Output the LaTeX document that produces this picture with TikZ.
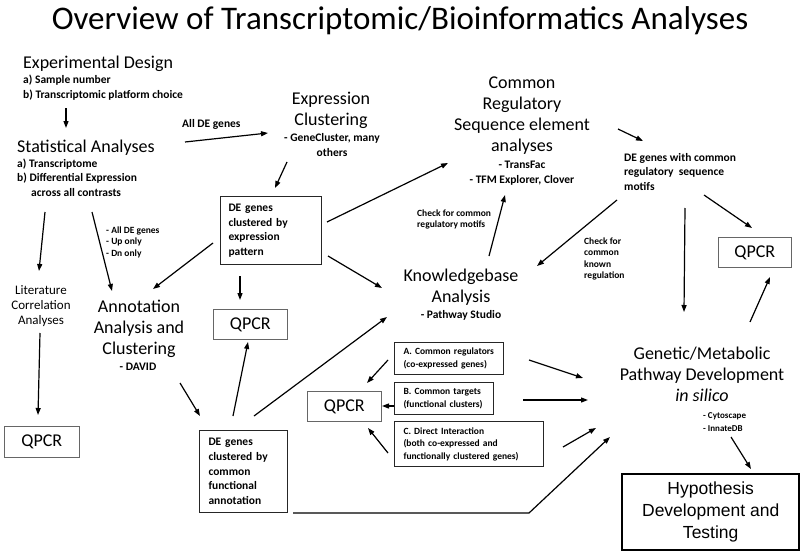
\documentclass[tikz,border=0pt]{standalone}
\usepackage{fontspec}
\setmainfont{Carlito}
\newfontfamily\arialfont{Liberation Sans}
\usetikzlibrary{arrows.meta}
\begin{document}
\begin{tikzpicture}[x=1pt,y=-1pt,
  arr/.style={line width=1.2pt,-{Triangle[length=7pt,width=5pt]}},
  ttl/.style={font=\fontsize{33}{36}\selectfont,anchor=base,inner sep=0pt},
  headl/.style={font=\fontsize{18}{21}\selectfont,anchor=base west,inner sep=0pt,align=left},
  headc/.style={font=\fontsize{18}{21}\selectfont,anchor=base,inner sep=0pt,align=center},
  subl/.style={font=\bfseries\fontsize{11.5}{14.5}\selectfont,anchor=base west,inner sep=0pt,align=left},
  subc/.style={font=\bfseries\fontsize{11.5}{15}\selectfont,anchor=base,inner sep=0pt,align=center},
  tinyl/.style={font=\bfseries\fontsize{9.5}{11.5}\selectfont,anchor=base west,inner sep=0pt,align=left},
  litc/.style={font=\fontsize{13}{15}\selectfont,anchor=base,inner sep=0pt,align=center},
  debox/.style={draw=black!85,line width=1pt,anchor=north west,inner ysep=0pt,align=left,
     font=\bfseries\fontsize{11.5}{14.6}\selectfont},
  abox/.style={draw=black!85,line width=1pt,anchor=north west,inner xsep=9pt,inner ysep=0pt,align=left,
     font=\bfseries\fontsize{9.5}{12.5}\selectfont},
  qbox/.style={draw=black!60,line width=0.7pt,anchor=north west,inner sep=0pt,
     font=\fontsize{18}{21}\selectfont},
  hbox/.style={draw=black,line width=2.4pt,anchor=north west,inner sep=0pt,align=center,
     font=\arialfont\fontsize{17.5}{22}\selectfont}
]
\useasboundingbox (0,0) rectangle (800,551);
\fill[white] (0,0) rectangle (800,551);

% texts (multi-line nodes: base anchor = baseline of last line)
\node[ttl] (title) at (400,30) {Overview of Transcriptomic/Bioinformatics Analyses};
\node[headl] (ed) at (23,68) {Experimental Design};
\node[subl] (edsub) at (23,98.5) {a) Sample number\\b) Transcriptomic platform choice};
\node[headl] (sa) at (17,152) {Statistical Analyses};
\node[subl] (sasub) at (17,196) {a) Transcriptome\\b) Differential Expression\\\hspace*{14pt}across all contrasts};
\node[subl] (allde) at (182,127) {All DE genes};
\node[headc] (ec) at (331,125) {Expression\\Clustering};
\node[subc] (ecsub) at (332,156) {- GeneCluster, many\\others};
\node[headc] (crs) at (522,151) {Common\\Regulatory\\Sequence element\\analyses};
\node[subc] (crssub) at (522,183) {- TransFac\\- TFM Explorer, Clover};
\node[subl] (dem) at (624,190) {DE genes with common\\regulatory\ \ sequence\\motifs};
\node[tinyl] (lab1) at (106,256) {- All DE genes\\- Up only\\- Dn only};
\node[tinyl] (lab2) at (417,227.5) {Check for common\\regulatory motifs};
\node[tinyl] (lab3) at (584,278.5) {Check for\\common\\known\\regulation};
\node[litc] (lit) at (41,324) {Literature\\Correlation\\Analyses};
\node[headc] (ann) at (139,354) {Annotation\\Analysis and\\Clustering};
\node[subc] (annsub) at (138,370) {- DAVID};
\node[headc] (kb) at (461,302) {Knowledgebase\\Analysis};
\node[subc] (kbsub) at (461,318) {- Pathway Studio};
\node[headc] (gen) at (702,401) {Genetic/Metabolic\\Pathway Development\\\textit{in silico}};
\node[font=\bfseries\fontsize{9}{13}\selectfont,anchor=base west,inner sep=0pt,align=left] (gensub) at (703,431) {- Cytoscape\\- InnateDB};

% boxes
\node[debox,minimum width=101pt,minimum height=68pt,text width=85pt,inner xsep=8pt] (de1) at (220,196)
  {DE genes\\clustered by\\expression\\pattern};
\node[debox,minimum width=88pt,minimum height=82pt,text width=70pt,inner xsep=9pt] (de2) at (199,430)
  {DE genes\\clustered by\\common\\functional\\annotation};
\node[abox,minimum width=109pt,minimum height=32pt,text width=91pt] (ba) at (394,342)
  {A. Common regulators\\(co-expressed genes)};
\node[abox,minimum width=99pt,minimum height=32pt,text width=81pt] (bb) at (394,382)
  {B. Common targets\\(functional clusters)};
\node[abox,minimum width=149pt,minimum height=45pt,text width=131pt] (bc) at (394,421)
  {C. Direct Interaction\\(both co-expressed and\\functionally clustered genes)};
\node[qbox,minimum width=74pt,minimum height=30pt] (qmid) at (213,309) {QPCR};
\node[qbox,minimum width=75pt,minimum height=31pt] (qleft) at (4,426) {QPCR};
\node[qbox,minimum width=74pt,minimum height=30pt] (qcen) at (307,391) {QPCR};
\node[qbox,minimum width=73pt,minimum height=30pt] (qright) at (718,237) {QPCR};
\node[hbox,minimum width=177pt,minimum height=76pt] (hyp) at (621,473)
  {Hypothesis\\Development and\\Testing};

% connector end points
\coordinate (c1a) at (66,108);   \coordinate (c1b) at (66,128);
\coordinate (c2a) at (185,142);  \coordinate (c2b) at (268,133);
\coordinate (c3a) at (287,162);  \coordinate (c3b) at (275,188);
\coordinate (c4a) at (327,222);  \coordinate (c4b) at (448,163);
\coordinate (c5a) at (328,256);  \coordinate (c5b) at (382,288);
\coordinate (c6a) at (240,276);  \coordinate (c6b) at (240,300);
\coordinate (c7a) at (213,243);  \coordinate (c7b) at (153,289);
\coordinate (c8a) at (45,212);   \coordinate (c8b) at (39,271);
\coordinate (c9a) at (92,212);   \coordinate (c9b) at (112,291);
\coordinate (c10a) at (40,333);  \coordinate (c10b) at (38,415);
\coordinate (c11a) at (180,383); \coordinate (c11b) at (200,416);
\coordinate (c12a) at (233,416); \coordinate (c12b) at (248,342);
\coordinate (c13a) at (254,416); \coordinate (c13b) at (387,317);
\coordinate (c14a) at (293,513); \coordinate (c14m) at (529,513); \coordinate (c14b) at (610,437);
\coordinate (c15a) at (618,129); \coordinate (c15b) at (643,141);
\coordinate (c16a) at (704,195); \coordinate (c16b) at (752,228);
\coordinate (c17a) at (685,208); \coordinate (c17b) at (684,312);
\coordinate (c18a) at (617,200); \coordinate (c18b) at (537,266);
\coordinate (c19a) at (489,256); \coordinate (c19b) at (505,195);
\coordinate (c20a) at (388,360); \coordinate (c20b) at (367,383);
\coordinate (c21a) at (394,406); \coordinate (c21b) at (382,406);
\coordinate (c22a) at (388,453); \coordinate (c22b) at (368,428);
\coordinate (c23a) at (529,360); \coordinate (c23b) at (583,378);
\coordinate (c24a) at (523,400); \coordinate (c24b) at (588,400);
\coordinate (c25a) at (563,447); \coordinate (c25b) at (596,428);
\coordinate (c26a) at (750,322); \coordinate (c26b) at (770,277);
\coordinate (c27a) at (731,437); \coordinate (c27b) at (751,469);

% connectors
\draw[arr] (c1a) -- (c1b);
\draw[arr] (c2a) -- (c2b);
\draw[arr] (c3a) -- (c3b);
\draw[arr] (c4a) -- (c4b);
\draw[arr] (c5a) -- (c5b);
\draw[arr] (c6a) -- (c6b);
\draw[arr] (c7a) -- (c7b);
\draw[arr] (c8a) -- (c8b);
\draw[arr] (c9a) -- (c9b);
\draw[arr] (c10a) -- (c10b);
\draw[arr] (c11a) -- (c11b);
\draw[arr] (c12a) -- (c12b);
\draw[arr] (c13a) -- (c13b);
\draw[arr] (c14a) -- (c14m) -- (c14b);
\draw[arr] (c15a) -- (c15b);
\draw[arr] (c16a) -- (c16b);
\draw[arr] (c17a) -- (c17b);
\draw[arr] (c18a) -- (c18b);
\draw[arr] (c19a) -- (c19b);
\draw[arr] (c20a) -- (c20b);
\draw[arr] (c21a) -- (c21b);
\draw[arr] (c22a) -- (c22b);
\draw[arr] (c23a) -- (c23b);
\draw[arr] (c24a) -- (c24b);
\draw[arr] (c25a) -- (c25b);
\draw[arr] (c26a) -- (c26b);
\draw[arr] (c27a) -- (c27b);
\end{tikzpicture}
\end{document}
